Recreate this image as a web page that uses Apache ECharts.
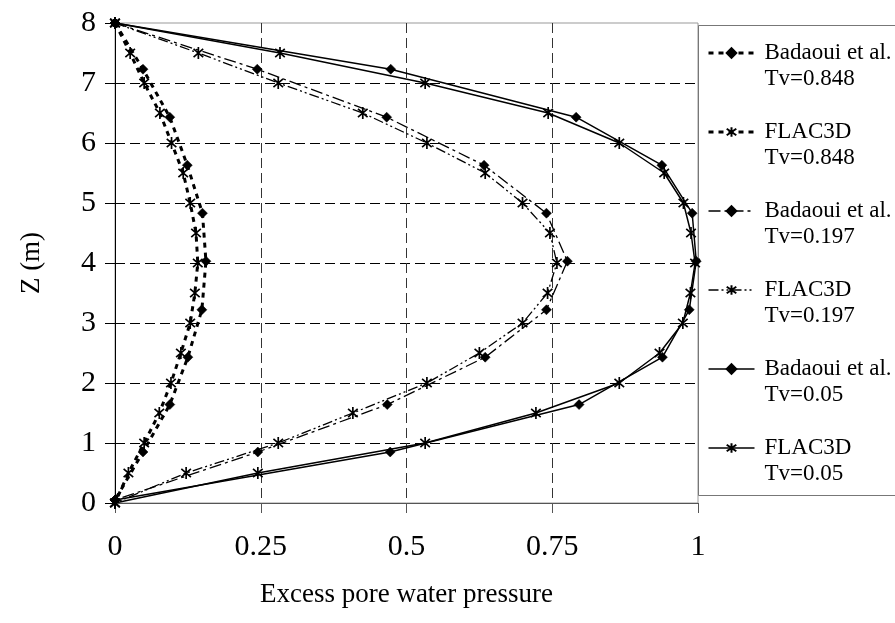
<!DOCTYPE html>
<html><head><meta charset="utf-8">
<script src="https://cdn.jsdelivr.net/npm/echarts@6/dist/echarts.min.js"></script>
<style>html,body{margin:0;padding:0;background:#fff}#c{width:895px;height:623px}</style>
</head><body><div id="c"></div>
<script>
// Depths (m)
const zBadaoui = [8, 7.23, 6.43, 5.63, 4.83, 4.03, 3.22, 2.43, 1.64, 0.85, 0.05];
const zFlac = [8, 7.5, 7, 6.5, 6, 5.5, 5, 4.5, 4, 3.5, 3, 2.5, 2, 1.5, 1, 0.5, 0];
// Excess pore water pressure (normalised)
const badaoui0848 = [0, 0.048, 0.094, 0.124, 0.150, 0.156, 0.149, 0.125, 0.094, 0.048, 0];
const flac0848 = [0, 0.026, 0.050, 0.077, 0.097, 0.117, 0.129, 0.139, 0.142, 0.137, 0.129, 0.113, 0.096, 0.076, 0.050, 0.023, 0];
const badaoui0197 = [0, 0.244, 0.466, 0.633, 0.740, 0.776, 0.740, 0.635, 0.467, 0.245, 0];
const flac0197 = [0, 0.143, 0.280, 0.425, 0.535, 0.635, 0.699, 0.746, 0.758, 0.742, 0.699, 0.625, 0.535, 0.408, 0.280, 0.122, 0];
const badaoui005 = [0, 0.473, 0.791, 0.938, 0.990, 0.997, 0.985, 0.939, 0.796, 0.472, 0];
const flac005 = [0, 0.283, 0.532, 0.743, 0.865, 0.942, 0.975, 0.988, 0.995, 0.987, 0.974, 0.934, 0.865, 0.722, 0.532, 0.245, 0];
// Legend names
const seriesNames = ['Badaoui et al.\nTv=0.848', 'FLAC3D\nTv=0.848', 'Badaoui et al.\nTv=0.197', 'FLAC3D\nTv=0.197', 'Badaoui et al.\nTv=0.05', 'FLAC3D\nTv=0.05'];
// Axis ticks
const xTicks = [0, 0.25, 0.5, 0.75, 1];
const yTicks = [0, 1, 2, 3, 4, 5, 6, 7, 8];

const pair = (zs, vs) => zs.map((z, i) => [vs[i], z]);
const FONT = 'Liberation Serif';
const STAR = 'path://M1,1.6L9,8.4M1,8.4L9,1.6M5,0L5,10';
const lineWidths = [3, 3, 1.3, 1.3, 1.5, 1.5];
const dashes = [[5, 5], [5, 5], [12, 4, 3, 4], [10, 3, 2, 3, 2, 3], 'solid', 'solid'];

function mk(idx, zs, vs, symbol, size) {
  return {
    name: seriesNames[idx], type: 'line', data: pair(zs, vs),
    symbol, symbolSize: size, symbolKeepAspect: true,
    lineStyle: {color: '#000', width: lineWidths[idx], type: dashes[idx]},
    itemStyle: {color: '#000', borderColor: '#000', borderWidth: symbol === 'diamond' ? 0.5 : 1.7},
    emphasis: {disabled: true}, animation: false, z: 3
  };
}

const chart = echarts.init(document.getElementById('c'), null, {renderer: 'canvas'});
chart.setOption({
  backgroundColor: '#fff',
  animation: false,
  grid: {left: 115, right: 197, top: 23, bottom: 120, show: true, borderColor: '#999', borderWidth: 1, backgroundColor: 'transparent'},
  xAxis: {
    type: 'value', min: xTicks[0], max: xTicks[xTicks.length - 1], interval: 0.25,
    name: 'Excess pore water pressure', nameLocation: 'middle', nameGap: 78,
    nameTextStyle: {fontFamily: FONT, fontSize: 27, color: '#000'},
    axisLine: {show: true, lineStyle: {color: '#555', width: 1}},
    axisTick: {show: true, length: 10, lineStyle: {color: '#555'}},
    axisLabel: {fontFamily: FONT, fontSize: 30, color: '#000', margin: 29},
    splitLine: {show: true, lineStyle: {type: [10, 5], width: 1, color: ['transparent', '#333', '#333', '#333', 'transparent']}}
  },
  yAxis: {
    type: 'value', min: yTicks[0], max: yTicks[yTicks.length - 1], interval: 1,
    name: 'Z (m)', nameLocation: 'middle', nameGap: 70, nameRotate: 90,
    nameTextStyle: {fontFamily: FONT, fontSize: 27, color: '#000'},
    axisLine: {show: true, lineStyle: {color: '#000', width: 1}},
    axisTick: {show: true, length: 10, lineStyle: {color: '#000'}},
    axisLabel: {fontFamily: FONT, fontSize: 30, color: '#000', margin: 19},
    splitLine: {show: true, lineStyle: {type: [10, 5], width: 1, color: ['transparent', '#000', '#000', '#000', '#000', '#000', '#000', '#000', 'transparent']}}
  },
  legend: {
    orient: 'vertical', left: 707, top: 14, padding: 0, itemGap: 1,
    itemWidth: 46, itemHeight: 12, z: 10,
    data: seriesNames.map((n, i) => ({name: n, lineStyle: {width: lineWidths[i], type: dashes[i], color: '#000'}})),
    formatter: n => '\u00a0\n' + n,
    textStyle: {fontFamily: FONT, fontSize: 23, lineHeight: 26, color: '#000', padding: [0, 0, 0, 5]}
  },
  graphic: {elements: [{
    type: 'rect', z: 1, silent: true,
    shape: {x: 698.5, y: 25.5, width: 220, height: 470},
    style: {fill: 'transparent', stroke: '#777', lineWidth: 1}
  }]},
  series: [
    mk(0, zBadaoui, badaoui0848, 'diamond', 10),
    mk(1, zFlac, flac0848, STAR, 12),
    mk(2, zBadaoui, badaoui0197, 'diamond', 10),
    mk(3, zFlac, flac0197, STAR, 12),
    mk(4, zBadaoui, badaoui005, 'diamond', 10),
    mk(5, zFlac, flac005, STAR, 12)
  ]
});
</script></body></html>
